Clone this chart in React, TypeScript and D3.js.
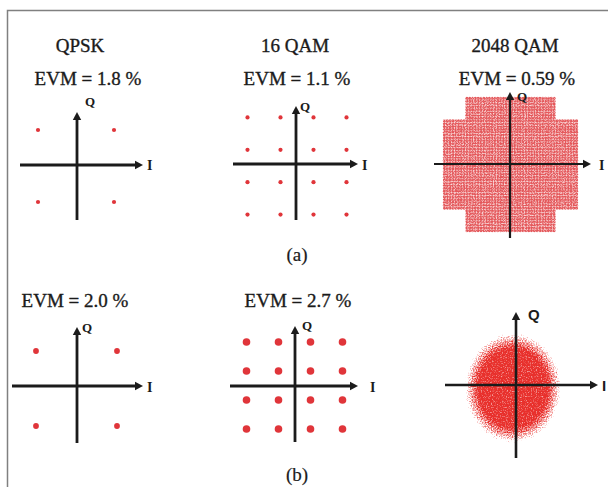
import React from 'react';
import * as d3 from 'd3';

// ---- data ----
const titles = ['QPSK', '16 QAM', '2048 QAM'];
const evmTop = [1.8, 1.1, 0.59];   // row (a)
const evmBottom = [2.0, 2.7];      // row (b), third panel has no label
const subLabels = ['(a)', '(b)'];
const qpskLevels = [-1, 1];
const qam16Levels = [-3, -1, 1, 3];
const qam2048Side = 48;    // 48 x 48 square grid ...
const qam2048Corner = 8;   // ... with 8 x 8 removed at each corner = 2048 points
const cloudExtent = {i: 36, q: 41}; // received 2048 QAM cloud half size, level units

type Pt = {i: number, q: number}

const grid = (levels: number[]): Pt[] =>
    levels.flatMap((i) => levels.map((q) => ({i, q})))

const crossPoints = (): Pt[] => {
    const lv = d3.range(-(qam2048Side - 1), qam2048Side, 2)
    const lim = qam2048Side - 1 - 2 * qam2048Corner
    return grid(lv).filter((p) => !(Math.abs(p.i) > lim && Math.abs(p.q) > lim))
}

// ---- layout (pixels) ----
const panels = [
    {id: 'p1', ax: 77, ay: 165, left: 20, right: 143, top: 112, bottom: 220, px: 76, py: 166, ux: 38, uy: 36, r: 2.1,
        pts: grid(qpskLevels), qx: 85, qy: 106, ix: 147, iy: 170, sans: false, sw: 2.8},
    {id: 'p2', ax: 296, ay: 164, left: 233, right: 358, top: 106, bottom: 220, px: 297, py: 166, ux: 16.5, uy: 16.2, r: 2.1,
        pts: grid(qam16Levels), qx: 300, qy: 111, ix: 362, iy: 170, sans: false, sw: 2.8},
    {id: 'p3', ax: 510, ay: 164, left: 434, right: 591, top: 92, bottom: 238, px: 510.5, py: 164.5, ux: 1.405, uy: 1.405, r: 1.6,
        pts: crossPoints(), qx: 517, qy: 101, ix: 599, iy: 170, sans: false, sw: 2.2},
    {id: 'p4', ax: 77, ay: 386, left: 12, right: 143, top: 327, bottom: 443, px: 76.5, py: 388.5, ux: 40.5, uy: 37.5, r: 2.9,
        pts: grid(qpskLevels), qx: 82, qy: 332, ix: 147, iy: 392, sans: false, sw: 2.8},
    {id: 'p5', ax: 295, ay: 386, left: 230, right: 358, top: 326, bottom: 442, px: 294.5, py: 385.5, ux: 16, uy: 14.5, r: 3.8,
        pts: grid(qam16Levels), qx: 302, qy: 330, ix: 370, iy: 392, sans: false, sw: 2.8},
    {id: 'p6', ax: 516, ay: 385, left: 445, right: 598, top: 312, bottom: 458, px: 513, py: 388, ux: 1.405, uy: 1.405, r: 0,
        pts: [] as Pt[], qx: 528, qy: 320, ix: 602, iy: 391, sans: true, sw: 2.6},
]

const titleX = [80, 295, 515]
const evmTopX = [88, 297, 517]
const evmBottomX = [75, 298]

const serif = '"Liberation Serif", "DejaVu Serif", serif'
const sans = '"Liberation Sans", Arial, sans-serif'
const ink = '#1b1b1b'

const Panel = ({p}: {p: typeof panels[number]}) => {
    const x = d3.scaleLinear().domain([-1, 1]).range([p.px - p.ux, p.px + p.ux])
    const y = d3.scaleLinear().domain([-1, 1]).range([p.py + p.uy, p.py - p.uy])
    const ah = 8, aw = 4.2
    const dense = p.id === 'p3'
    return (
        <g>
            {p.id === 'p6' && (
                <ellipse cx={x(0)} cy={y(0)}
                    rx={x(cloudExtent.i) - x(0)} ry={y(0) - y(cloudExtent.q)}
                    fill="url(#cloudGrad)" filter="url(#speckle)" />
            )}
            <g filter={dense ? 'url(#grain)' : undefined}>
                {p.pts.map((d, k) => (
                    <circle key={k} cx={x(d.i)} cy={y(d.q)} r={p.r} fill={dense ? '#e4585b' : '#e0353a'} />
                ))}
            </g>
            <line x1={p.left} x2={p.right - ah + 1} y1={p.ay} y2={p.ay} stroke={ink} strokeWidth={p.sw} />
            <line x1={p.ax} x2={p.ax} y1={p.top + ah - 1} y2={p.bottom} stroke={ink} strokeWidth={p.sw} />
            <path d={`M${p.right},${p.ay} L${p.right - ah},${p.ay - aw} L${p.right - ah},${p.ay + aw} Z`} fill={ink} />
            <path d={`M${p.ax},${p.top} L${p.ax - aw},${p.top + ah} L${p.ax + aw},${p.top + ah} Z`} fill={ink} />
            <text x={p.qx} y={p.qy} fontFamily={p.sans ? sans : serif} fontWeight="bold"
                fontSize={p.sans ? 15 : 13} fill={ink}>Q</text>
            <text x={p.ix} y={p.iy} fontFamily={p.sans ? sans : serif} fontWeight="bold"
                fontSize={p.sans ? 15 : 14} fill={ink}>I</text>
        </g>
    )
}

const txt = {fontFamily: serif, fontSize: 19, fill: ink, stroke: ink, strokeWidth: 0.35, textAnchor: 'middle' as const}

export default function App() {
    return (
        <svg width={608} height={487} style={{position: 'absolute', left: 0, top: 0, background: '#fff'}}>
            <defs>
                <radialGradient id="cloudGrad">
                    <stop offset="0" stopColor="#e8302c" stopOpacity={1} />
                    <stop offset="0.68" stopColor="#e8302c" stopOpacity={1} />
                    <stop offset="0.88" stopColor="#e8302c" stopOpacity={0.5} />
                    <stop offset="1" stopColor="#e8302c" stopOpacity={0} />
                </radialGradient>
                <filter id="speckle" x="-10%" y="-10%" width="120%" height="120%" colorInterpolationFilters="sRGB">
                    <feTurbulence type="fractalNoise" baseFrequency="0.8" numOctaves={1} seed={5} result="noise" />
                    <feColorMatrix in="noise" type="matrix"
                        values="0 0 0 0 0  0 0 0 0 0  0 0 0 0 0  1 0 0 0 0" result="n" />
                    <feComposite in="SourceAlpha" in2="n" operator="arithmetic" k1={0} k2={1.8} k3={2.2} k4={-1.85} result="m" />
                    <feFlood floodColor="#e8302c" result="red" />
                    <feComposite in="red" in2="m" operator="in" />
                </filter>
                <filter id="grain" x="0" y="0" width="100%" height="100%" colorInterpolationFilters="sRGB">
                    <feTurbulence type="fractalNoise" baseFrequency="0.9" numOctaves={1} seed={11} result="noise" />
                    <feColorMatrix in="noise" type="matrix"
                        values="0 0 0 0 0  0 0 0 0 0  0 0 0 0 0  2.2 0 0 0 -0.15" result="m" />
                    <feComposite in="SourceGraphic" in2="m" operator="in" />
                </filter>
            </defs>
            <rect x={7.5} y={10.5} width={640} height={520} fill="none" stroke="#808080" strokeWidth={1.5} />

            {titles.map((t, k) => (
                <text key={t} x={titleX[k]} y={52} {...txt}>{t}</text>
            ))}
            {evmTop.map((v, k) => (
                <text key={k} x={evmTopX[k]} y={85} {...txt}>{`EVM = ${v} %`}</text>
            ))}
            {evmBottom.map((v, k) => (
                <text key={k} x={evmBottomX[k]} y={307} {...txt}>{`EVM = ${v.toFixed(1)} %`}</text>
            ))}
            <text x={297} y={261} {...txt} strokeWidth={0.2}>{subLabels[0]}</text>
            <text x={297} y={481} {...txt} strokeWidth={0.2}>{subLabels[1]}</text>

            {panels.map((p) => <Panel key={p.id} p={p} />)}
        </svg>
    )
}
